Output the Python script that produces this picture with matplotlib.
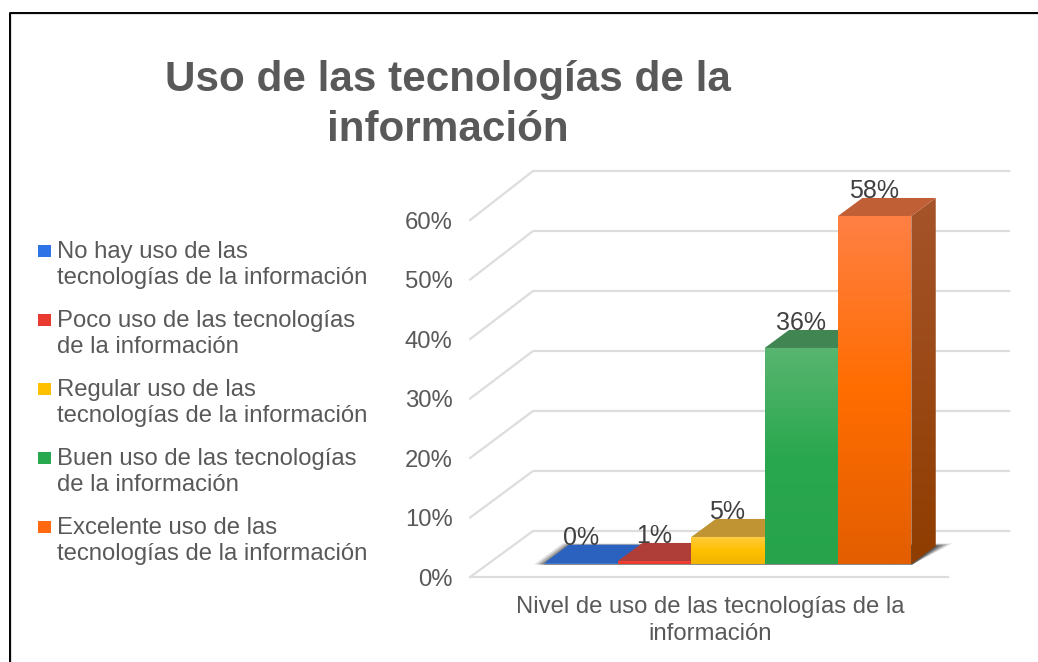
import numpy as np
import matplotlib
matplotlib.use('Agg')
import matplotlib.pyplot as plt
from matplotlib.colors import LinearSegmentedColormap
from matplotlib.lines import Line2D
from matplotlib.patches import Polygon, Rectangle

plt.rcParams['font.family'] = ['Liberation Sans', 'DejaVu Sans']

title = "Uso de las tecnologías de la\ninformación"
axis_label = "Nivel de uso de las tecnologías de la\ninformación"
categories = ["No hay uso de las\ntecnologías de la información",
              "Poco uso de las tecnologías\nde la información",
              "Regular uso de las\ntecnologías de la información",
              "Buen uso de las tecnologías\nde la información",
              "Excelente uso de las\ntecnologías de la información"]
values = [0.002, 0.005, 0.045, 0.36, 0.58]
value_labels = ["0%", "1%", "5%", "36%", "58%"]
y_ticks = [0, 0.1, 0.2, 0.3, 0.4, 0.5, 0.6]
y_tick_labels = ["0%", "10%", "20%", "30%", "40%", "50%", "60%"]

# front face gradient (top, middle, bottom), top face, side face top/bottom
front_colors = [["#3F7FE8", "#3A78E0", "#3A78E0"],
                ["#F0453A", "#EE3B30", "#E5382D"],
                ["#FFCB3D", "#FFC000", "#F0B400"],
                ["#58B56F", "#2AA84F", "#26A34B"],
                ["#FF8044", "#FF6D00", "#E35E00"]]
legend_colors = ["#2F74E6", "#E93A30", "#FFC000", "#28A84F", "#FF6A10"]
top_colors = ["#2B62C0", "#B03E38", "#C09433", "#418553", "#C05F35"]
side_colors = ["#A5542B", "#8F3D00"]

text_color = "#595959"
grid_color = "#DDDDDD"

W, H = 1038, 662
fig = plt.figure(figsize=(W / 100, H / 100), dpi=100)
ax = fig.add_axes([472 / W, 1 - 577 / H, 476 / W, 361 / H])
xmin, xmax = -0.78, 5.71
depth_x, depth_y = 0.832, 0.075  # full floor depth, in axis units
bar_z0, bar_z1 = 0.267, 0.667


def project(x, y, z):
    return x + z * depth_x, y + z * depth_y


def front_pos(v):
    # the front edge of the wall is a bit shorter than the back, perspective
    return v * 59.5 / 60 - 0.0017


def gradient(poly, colors, z=3):
    cmap = LinearSegmentedColormap.from_list("g", colors)
    pts = np.array(poly)
    im = ax.imshow(np.linspace(0, 1, 200).reshape(-1, 1), cmap=cmap, aspect='auto',
                   extent=[pts[:, 0].min(), pts[:, 0].max(), pts[:, 1].min(), pts[:, 1].max()],
                   origin='upper', zorder=z)
    clip = Polygon(poly, closed=True, transform=ax.transData, fc='none', ec='none', clip_on=False)
    ax.add_patch(clip)
    im.set_clip_box(fig.bbox)
    im.set_clip_path(clip)


# walls and floor
for v in y_ticks:
    x1, y1 = project(xmin, v, 1)
    x2, y2 = project(xmax, v, 1)
    ax.plot([xmin - 0.025, x1, x2], [front_pos(v), y1, y2], color=grid_color, lw=1.6, zorder=1, clip_on=False)
ax.plot([xmin - 0.025, xmax], [front_pos(0), front_pos(0)], color=grid_color, lw=1.6, zorder=1, clip_on=False)

# shadow on the floor
n = len(values)
for grow, alpha in [(0.14, 0.16), (0.10, 0.25), (0.06, 0.35), (0.02, 0.5)]:
    x0, y0 = project(0, 0, bar_z0)
    x1, y1 = project(n, 0, bar_z0)
    x2, y2 = project(n, 0, bar_z1)
    x3, y3 = project(0, 0, bar_z1)
    ax.add_patch(Polygon([(x0 - grow * 1.1, y0 - 0.001), (x1, y1 - 0.001),
                          (x2 + grow * 1.5, y2 + grow * 0.03), (x3 - grow * 0.7, y3 + grow * 0.03)],
                         closed=True, fc="#303030", ec='none', alpha=alpha, zorder=2, clip_on=False))

# bars, left to right so each one covers the side of the last
for i, v in enumerate(values):
    base = bar_z0 * depth_y
    x_off = bar_z0 * depth_x - 0.012
    dz = bar_z1 - bar_z0
    fl, fr = i + x_off, i + 1 + x_off
    fb, ft = base, base + v
    bx, by = dz * depth_x, dz * depth_y
    z = 3 + i
    gradient([(fr, fb), (fr + bx, fb + by), (fr + bx, ft + by), (fr, ft)], side_colors, z=z)
    ax.add_patch(Polygon([(fl, ft), (fr, ft), (fr + bx, ft + by), (fl + bx, ft + by)],
                         closed=True, fc=top_colors[i], ec='none', zorder=z, clip_on=False))
    gradient([(fl, fb), (fr, fb), (fr, ft), (fl, ft)], front_colors[i], z=z + 0.5)
    ax.annotate(value_labels[i], (i + 0.5 + x_off, ft), xytext=(-0.5, 18), textcoords='offset points',
                ha='center', va='center', fontsize=18, color="#404040", zorder=20, annotation_clip=False)

ax.set_yticks([front_pos(v) for v in y_ticks], y_tick_labels)
ax.set_xticks([(xmin + xmax) / 2], [axis_label])
ax.set_xlim(xmin, xmax)
ax.set_ylim(front_pos(0), 0.6)
ax.tick_params(axis='both', length=0, labelsize=17.2, labelcolor=text_color)
ax.tick_params(axis='y', pad=14)
ax.tick_params(axis='x', pad=14)
ax.xaxis.get_ticklabels()[0].set_linespacing(1.27)
for s in ax.spines.values():
    s.set_visible(False)
ax.patch.set_alpha(0)

fig.text(448 / W, 1 - 105 / H, title, ha='center', va='center', fontsize=30.4, fontweight='bold',
         color=text_color, linespacing=1.31)

# legend
for i, label in enumerate(categories):
    cy = 265 + i * 69
    fig.text(57 / W, 1 - cy / H, label, ha='left', va='center', fontsize=17.2,
             color=text_color, linespacing=1.28)
    fig.add_artist(Rectangle((38 / W, 1 - (cy - 8) / H), 13 / W, 12 / H, transform=fig.transFigure,
                             fc=legend_colors[i], ec='none'))

# picture border, only top and left show
fig.add_artist(Line2D([11 / W, 11 / W, 1], [0, 1 - 14 / H, 1 - 14 / H],
                      color="#DADADA", lw=1.2, transform=fig.transFigure))
fig.add_artist(Line2D([9.5 / W, 9.5 / W, 1], [0, 1 - 12.5 / H, 1 - 12.5 / H],
                      color="black", lw=1.4, transform=fig.transFigure))

fig.savefig("out.png", dpi=100)
